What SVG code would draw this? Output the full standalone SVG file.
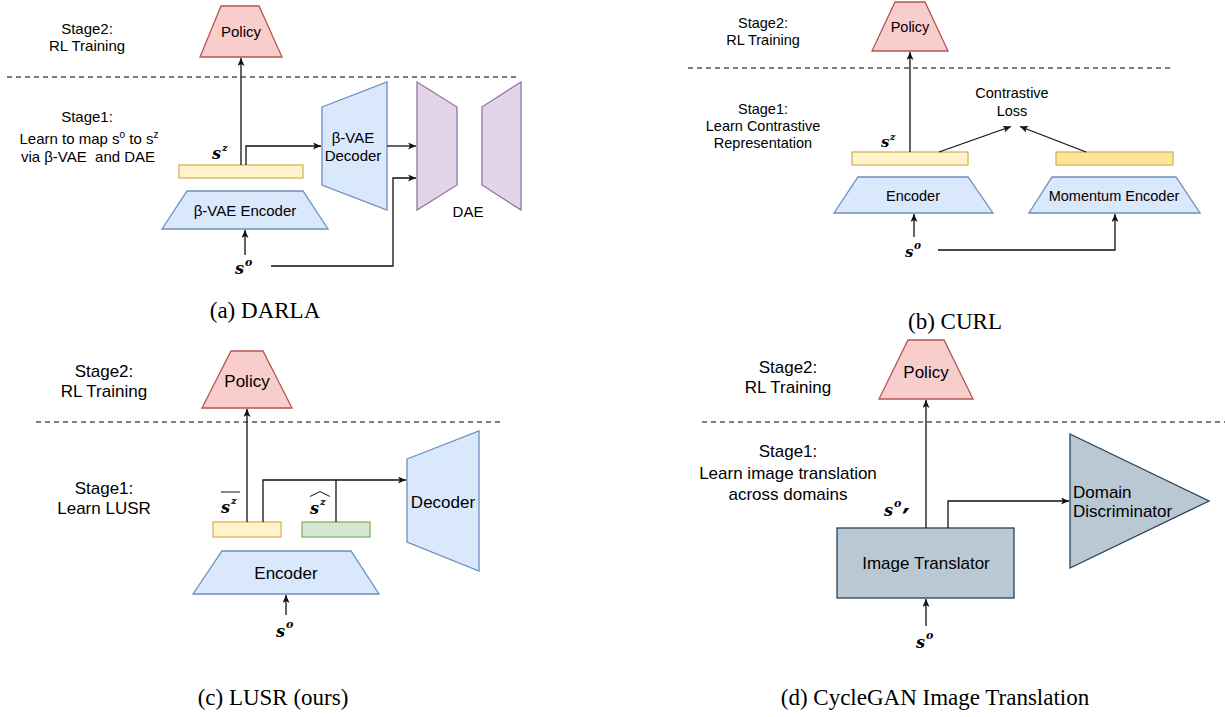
<svg xmlns="http://www.w3.org/2000/svg" width="1225" height="717" viewBox="0 0 1225 717">
<style>
.t{font-family:"Liberation Sans",Arial,sans-serif;fill:#000;text-anchor:middle}
.a{font-size:15px}.b{font-size:14.5px}.c{font-size:17px}
.cap{font-family:"Liberation Serif","Times New Roman",serif;font-size:23px;fill:#000;text-anchor:middle}
.m{font-family:"DejaVu Serif","Liberation Serif",serif;font-style:italic;font-weight:bold;fill:#000}
.pol{fill:#f8cecc;stroke:#b85450;stroke-width:1.3}
.blu{fill:#dae8fc;stroke:#6c8ebf;stroke-width:1.3}
.yel{fill:#fff2cc;stroke:#d6b656;stroke-width:1.3}
.yel2{fill:#ffe599;stroke:#d6b656;stroke-width:1.3}
.grn{fill:#d5e8d4;stroke:#82b366;stroke-width:1.3}
.pur{fill:#e1d5e7;stroke:#9673a6;stroke-width:1.3}
.gry{fill:#bac8d3;stroke:#23445d;stroke-width:1.3}
.dash{stroke:#000;stroke-width:1.2;stroke-dasharray:5 4;fill:none}
.ln{stroke:#111;stroke-width:1.3;fill:none}
.ar{marker-end:url(#arr)}
</style>
<defs>
<marker id="arr" markerUnits="userSpaceOnUse" markerWidth="10" markerHeight="8" refX="8" refY="3.5" orient="auto">
<path d="M0,0 L8,3.5 L0,7 L2,3.5 z" fill="#111"/>
</marker>
</defs>
<rect width="1225" height="717" fill="#fff"/>

<!-- Panel (a) -->
<g id="a-labels">
<text class="t a" x="87" y="34">Stage2:</text>
<text class="t a" x="87" y="51">RL Training</text>
<text class="t a" x="87" y="122">Stage1:</text>
<text class="t a" x="89" y="144">Learn to map s<tspan font-size="10" dy="-6">o</tspan><tspan dy="6"> to s</tspan><tspan font-size="10" dy="-6">z</tspan></text>
<text class="t a" x="88" y="162" xml:space="preserve">via β-VAE  and DAE</text>
<line class="dash" x1="7" y1="77" x2="520" y2="77"/>
</g>
<g id="a-policy"><polygon class="pol" points="221,6 259,6 282,57 200,57"/><text class="t a" x="241" y="37">Policy</text></g>
<g id="a-sz"><rect class="yel" x="179" y="165" width="124" height="13"/>
<text class="m" x="212" y="159" font-size="16">s</text><text class="m" x="222" y="151" font-size="10">z</text></g>
<g id="a-encoder"><polygon class="blu" points="187,191 303,191 328,229 162,229"/><text class="t a" x="245" y="216">β-VAE Encoder</text></g>
<g id="a-decoder"><polygon class="blu" points="322,107 387,82 387,210 322,185"/><text class="t a" x="353" y="143">β-VAE</text><text class="t a" x="353" y="161">Decoder</text></g>
<g id="a-dae"><polygon class="pur" points="417,82 457,107 457,185 417,210"/><polygon class="pur" points="482,107 521,82 521,210 482,185"/><text class="t a" x="468" y="217">DAE</text></g>
<g id="a-so"><text class="m" x="235" y="274" font-size="16">s</text><text class="m" x="245" y="266" font-size="11">o</text></g>
<text class="cap" x="265" y="318">(a) DARLA</text>

<!-- Panel (b) -->
<g id="b-labels">
<text class="t b" x="763" y="28">Stage2:</text>
<text class="t b" x="763" y="45">RL Training</text>
<text class="t b" x="763" y="114">Stage1:</text>
<text class="t b" x="763" y="131">Learn Contrastive</text>
<text class="t b" x="763" y="148">Representation</text>
<line class="dash" x1="688" y1="68" x2="1174" y2="68"/>
<text class="t b" x="1012" y="98">Contrastive</text>
<text class="t b" x="1012" y="116">Loss</text>
</g>
<g id="b-policy"><polygon class="pol" points="895,2 925,2 948,51 872,51"/><text class="t b" x="910" y="32">Policy</text></g>
<g id="b-sz"><rect class="yel" x="852" y="152" width="116" height="13"/>
<text class="m" x="881" y="147" font-size="15">s</text><text class="m" x="890" y="140" font-size="9.5">z</text></g>
<g id="b-mbar"><rect class="yel2" x="1056" y="152" width="117" height="13"/></g>
<g id="b-encoder"><polygon class="blu" points="858,177 968,177 993,213 834,213"/><text class="t b" x="913" y="201">Encoder</text></g>
<g id="b-momentum"><polygon class="blu" points="1052,177 1176,177 1200,213 1029,213"/><text class="t b" x="1114" y="201">Momentum Encoder</text></g>
<g id="b-so"><text class="m" x="905" y="257" font-size="15">s</text><text class="m" x="914" y="249" font-size="10.5">o</text></g>
<text class="cap" x="955" y="329">(b) CURL</text>

<!-- Panel (c) -->
<g id="c-labels">
<text class="t c" x="104" y="377">Stage2:</text>
<text class="t c" x="104" y="397">RL Training</text>
<text class="t c" x="104" y="494">Stage1:</text>
<text class="t c" x="104" y="514">Learn LUSR</text>
<line class="dash" x1="36" y1="422" x2="503" y2="422"/>
</g>
<g id="c-policy"><polygon class="pol" points="231,351 263,351 292,408 202,408"/><text class="t c" x="247" y="387">Policy</text></g>
<g id="c-sbar"><rect class="yel" x="213" y="522" width="68" height="15"/>
<text class="m" x="221" y="513" font-size="16">s</text><text class="m" x="231" y="504" font-size="10">z</text>
<line x1="221" y1="492" x2="240" y2="492" stroke="#111" stroke-width="1"/></g>
<g id="c-shat"><rect class="grn" x="302" y="522" width="68" height="15"/>
<text class="m" x="310" y="514" font-size="16">s</text><text class="m" x="320" y="505" font-size="10">z</text>
<path d="M310,496.5 L320,491.5 L330,496.5" stroke="#111" stroke-width="1" fill="none"/></g>
<g id="c-encoder"><polygon class="blu" points="222,551 351,551 379,594 193,594"/><text class="t c" x="286" y="579">Encoder</text></g>
<g id="c-decoder"><polygon class="blu" points="407,459 479,431 479,571 407,542"/><text class="t c" x="443" y="508">Decoder</text></g>
<g id="c-so"><text class="m" x="276" y="637" font-size="16">s</text><text class="m" x="286" y="628" font-size="11">o</text></g>
<text class="cap" x="273" y="705">(c) LUSR (ours)</text>

<!-- Panel (d) -->
<g id="d-labels">
<text class="t c" x="788" y="373">Stage2:</text>
<text class="t c" x="788" y="393">RL Training</text>
<text class="t c" x="788" y="457">Stage1:</text>
<text class="t c" x="788" y="479">Learn image translation</text>
<text class="t c" x="788" y="500">across domains</text>
<line class="dash" x1="702" y1="422" x2="1225" y2="422"/>
</g>
<g id="d-policy"><polygon class="pol" points="908,340 944,340 973,399 879,399"/><text class="t c" x="926" y="378">Policy</text></g>
<g id="d-translator"><rect class="gry" x="837" y="528" width="177" height="70"/><text class="t c" x="926" y="569">Image Translator</text></g>
<g id="d-discriminator"><polygon class="gry" points="1070,434 1209,501 1070,568"/>
<text class="t c" x="1073" y="498" style="text-anchor:start">Domain</text>
<text class="t c" x="1073" y="517" style="text-anchor:start">Discriminator</text></g>
<g id="d-sop"><text class="m" x="884" y="516" font-size="16">s</text><text class="m" x="894" y="507" font-size="11">o</text>
<text x="902" y="530" font-family="DejaVu Sans,sans-serif" font-weight="bold" font-size="30" fill="#000">′</text></g>
<g id="d-so"><text class="m" x="916" y="648" font-size="16">s</text><text class="m" x="926" y="639" font-size="11">o</text></g>
<text class="cap" x="935" y="705">(d) CycleGAN Image Translation</text>

<g id="connectors">
<path class="ln ar" d="M241,165 V58"/>
<path class="ln ar" d="M246,165 V146 H321"/>
<path class="ln ar" d="M387,146 H416"/>
<path class="ln ar" d="M271,266 H393 V178 H416"/>
<path class="ln ar" d="M245,255 V230"/>
<path class="ln ar" d="M910,152 V52"/>
<path class="ln ar" d="M939,152 L1011,126.5"/>
<path class="ln ar" d="M1086,152 L1020,126.5"/>
<path class="ln ar" d="M914,237 V214"/>
<path class="ln ar" d="M938,250 H1115 V214"/>
<path class="ln ar" d="M247,522 V409"/>
<path class="ln ar" d="M263,522 V480 H406"/>
<path class="ln" d="M336,522 V480"/>
<path class="ln ar" d="M286,615 V595"/>
<path class="ln ar" d="M926,528 V400"/>
<path class="ln ar" d="M948,528 V501 H1069"/>
<path class="ln ar" d="M926,626 V599"/>
</g>
</svg>
